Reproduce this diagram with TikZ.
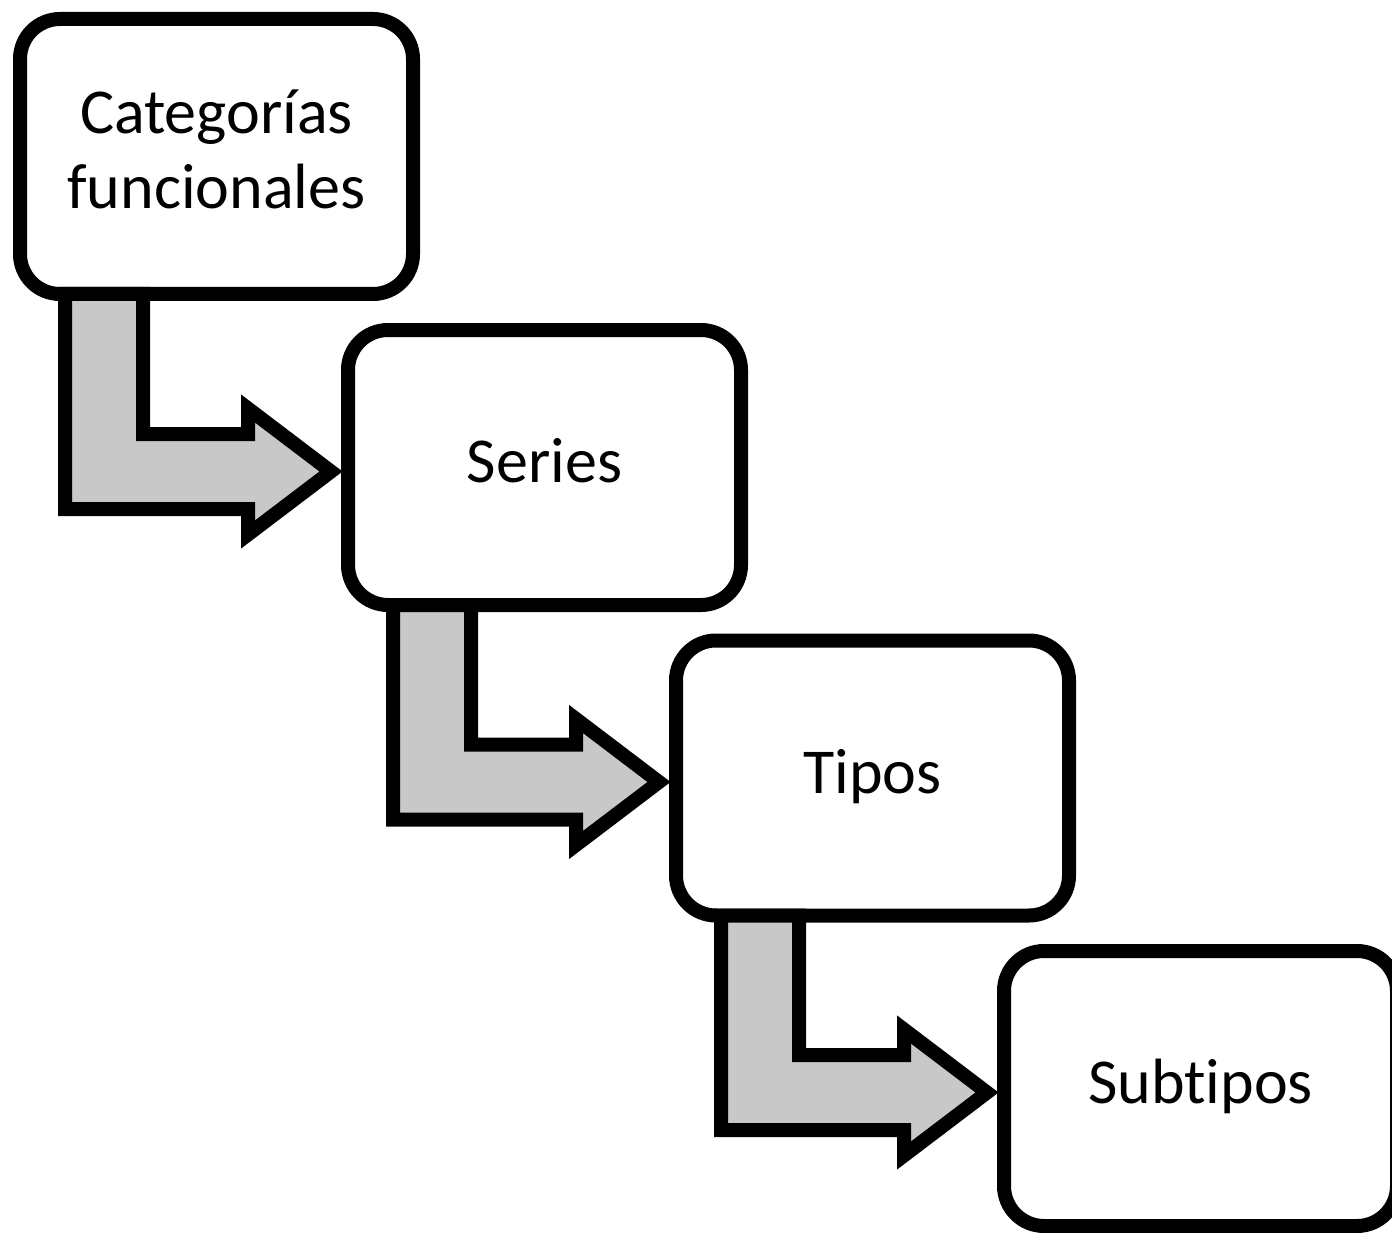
\documentclass[tikz,border=0pt]{standalone}
\usepackage{fontspec}
\setmainfont{Carlito}[Ligatures=NoCommon]
\usetikzlibrary{calc}
\definecolor{gris-flecha}{RGB}{200,200,200}

\tikzset{
  caja/.style={draw, line width=14pt, rounded corners=40pt, fill=white,
    minimum width=393pt, minimum height=275pt, inner sep=0pt, outer sep=0pt,
    align=center, font=\fontsize{64}{75}\selectfont},
  flecha/.style={draw, line width=14pt, line join=miter, fill=gris-flecha}
}

\begin{document}
\begin{tikzpicture}[x=1pt,y=1pt]
  \useasboundingbox (0,0) rectangle (1392,-1233);

  \node[caja] (categorias)	at (216.5,-156.5)	{Categorías\strut\\funcionales\strut};
  \node[caja] (series)		at (544.5,-467.5)	{Series\strut};
  \node[caja] (tipos)		at (872.5,-778)		{Tipos\strut};
  \node[caja] (subtipos)	at (1200.5,-1088.5)	{Subtipos\strut};

  \draw[flecha] let \p1=(categorias.south west), \p2=(series.west) in
    (\x1+45pt,\y1) -- (\x1+45pt,\y2-41.5pt) -- (\x2-100pt,\y2-41.5pt) -- (\x2-100pt,\y2-67pt)
    -- (\x2-17pt,\y2-4pt) -- (\x2-100pt,\y2+59pt) -- (\x2-100pt,\y2+33.5pt)
    -- (\x1+123pt,\y2+33.5pt) -- (\x1+123pt,\y1) -- cycle;
  \draw[flecha] let \p1=(series.south west), \p2=(tipos.west) in
    (\x1+45pt,\y1) -- (\x1+45pt,\y2-41.5pt) -- (\x2-100pt,\y2-41.5pt) -- (\x2-100pt,\y2-67pt)
    -- (\x2-17pt,\y2-4pt) -- (\x2-100pt,\y2+59pt) -- (\x2-100pt,\y2+33.5pt)
    -- (\x1+123pt,\y2+33.5pt) -- (\x1+123pt,\y1) -- cycle;
  \draw[flecha] let \p1=(tipos.south west), \p2=(subtipos.west) in
    (\x1+45pt,\y1) -- (\x1+45pt,\y2-41.5pt) -- (\x2-100pt,\y2-41.5pt) -- (\x2-100pt,\y2-67pt)
    -- (\x2-17pt,\y2-4pt) -- (\x2-100pt,\y2+59pt) -- (\x2-100pt,\y2+33.5pt)
    -- (\x1+123pt,\y2+33.5pt) -- (\x1+123pt,\y1) -- cycle;
\end{tikzpicture}
\end{document}
